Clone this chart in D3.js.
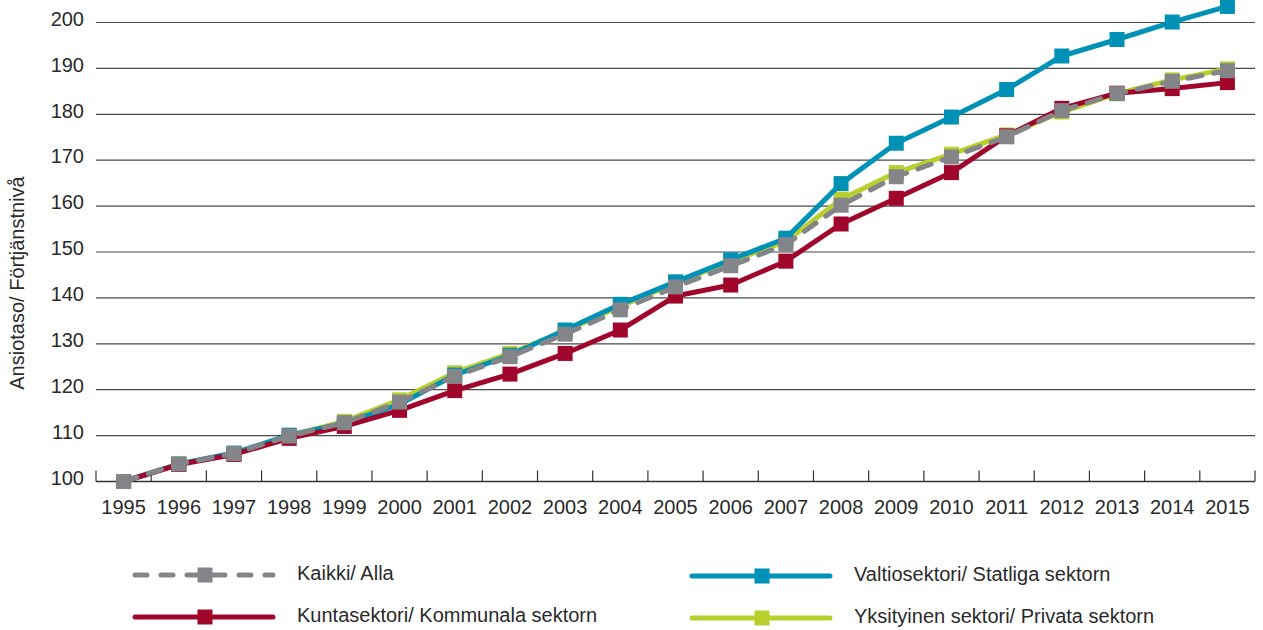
<!DOCTYPE html>
<html>
<head>
<meta charset="utf-8">
<script src="https://cdnjs.cloudflare.com/ajax/libs/d3/7.8.5/d3.min.js"></script>
<style>
  body { margin: 0; background: #fff; }
  svg text { font-family: "Liberation Sans", Arial, sans-serif; fill: #2a2a2a; }
</style>
</head>
<body>
<div id="chart"></div>
<script>
// vuodet / år
var years = [1995,1996,1997,1998,1999,2000,2001,2002,2003,2004,2005,2006,2007,2008,2009,2010,2011,2012,2013,2014,2015];
var yTicks = [100,110,120,130,140,150,160,170,180,190,200];

// arvot luettu kuvasta
var kaikki     = [100,103.8,106.1,109.9,112.8,117.3,122.9,127.2,132.1,137.4,142.4,147.0,151.6,160.2,166.4,170.7,175.1,180.8,184.5,187.2,189.5];
var valtio     = [100,103.8,106.2,110.1,112.7,116.8,123.2,127.5,133.0,138.6,143.5,148.3,153.0,164.9,173.7,179.4,185.4,192.7,196.3,200.1,203.5];
var kunta      = [100,103.7,105.9,109.4,112.0,115.5,119.8,123.4,127.9,133.0,140.4,142.8,148.0,156.1,161.7,167.3,175.3,181.3,184.6,185.6,186.9];
var yksityinen = [100,103.8,106.1,110.0,113.1,117.8,123.7,127.9,132.8,138.2,143.2,148.0,152.3,161.5,167.3,171.3,175.5,180.5,184.5,187.5,189.9];

var series = [
  {name: "Yksityinen sektori/ Privata sektorn", values: yksityinen, color: "#b8cf2d", dash: null},
  {name: "Valtiosektori/ Statliga sektorn", values: valtio, color: "#0092b6", dash: null},
  {name: "Kuntasektori/ Kommunala sektorn", values: kunta, color: "#a0052c", dash: null},
  {name: "Kaikki/ Alla", values: kaikki, color: "#848589", dash: "14,12"}
];

var W = 1263, H = 630;
var svg = d3.select("#chart").append("svg")
  .attr("width", W).attr("height", H);

var x = d3.scaleBand().domain(years).range([96, 1255]).padding(0);
var y = d3.scaleLinear().domain([100, 200]).range([481.5, 22.5]);

// gridlines
svg.append("g")
  .selectAll("line")
  .data(yTicks.slice(1))
  .enter().append("line")
    .attr("x1", 96).attr("x2", 1255)
    .attr("y1", function(d){ return y(d); })
    .attr("y2", function(d){ return y(d); })
    .attr("stroke", "#4a4a4a")
    .attr("stroke-width", 1.2);

// y labels
svg.append("g")
  .selectAll("text")
  .data(yTicks)
  .enter().append("text")
    .attr("x", 84)
    .attr("y", function(d){ return y(d) - 2; })
    .attr("text-anchor", "end")
    .attr("dominant-baseline", "middle")
    .style("font-size", "20px")
    .text(function(d){ return d; });

// x axis
var xAxis = svg.append("g")
  .attr("transform", "translate(0," + y(100) + ")");
xAxis.append("line")
  .attr("x1", 96).attr("x2", 1255)
  .attr("stroke", "#333").attr("stroke-width", 1.3);
var bounds = years.map(function(d){ return x(d); }).concat([x(2015) + x.bandwidth()]);
xAxis.selectAll(".tk")
  .data(bounds)
  .enter().append("line")
    .attr("x1", function(d){ return d; })
    .attr("x2", function(d){ return d; })
    .attr("y1", 0).attr("y2", -11)
    .attr("stroke", "#333").attr("stroke-width", 1.2);
xAxis.selectAll("text")
  .data(years)
  .enter().append("text")
    .attr("x", function(d){ return x(d) + x.bandwidth() / 2; })
    .attr("y", 32)
    .attr("text-anchor", "middle")
    .style("font-size", "20px")
    .text(function(d){ return d; });

// y title
svg.append("text")
  .attr("transform", "translate(24,283) rotate(-90)")
  .attr("text-anchor", "middle")
  .style("font-size", "20px")
  .text("Ansiotaso/ Förtjänstnivå");

var line = d3.line()
  .x(function(d, i){ return x(years[i]) + x.bandwidth() / 2; })
  .y(function(d){ return y(d); });

var ms = 15;
series.forEach(function(s) {
  var g = svg.append("g");
  g.append("path")
    .datum(s.values)
    .attr("d", line)
    .attr("fill", "none")
    .attr("stroke", s.color)
    .attr("stroke-width", 5)
    .attr("stroke-linecap", "round")
    .attr("stroke-linejoin", "round")
    .attr("stroke-dasharray", s.dash);
  g.selectAll("rect")
    .data(s.values)
    .enter().append("rect")
      .attr("x", function(d, i){ return x(years[i]) + x.bandwidth() / 2 - ms / 2; })
      .attr("y", function(d){ return y(d) - ms / 2; })
      .attr("width", ms).attr("height", ms)
      .attr("fill", s.color);
});

// legend
var legend = [
  {s: series[3], lx: 133, ly: 575},
  {s: series[2], lx: 133, ly: 617},
  {s: series[1], lx: 690, ly: 576},
  {s: series[0], lx: 690, ly: 618}
];
legend.forEach(function(l) {
  var g = svg.append("g").attr("transform", "translate(" + l.lx + "," + l.ly + ")");
  g.append("line")
    .attr("x1", 2).attr("x2", 140)
    .attr("stroke", l.s.color)
    .attr("stroke-width", 5)
    .attr("stroke-linecap", "round")
    .attr("stroke-dasharray", l.s.dash ? "12,14" : null);
  g.append("rect")
    .attr("x", 72 - ms / 2).attr("y", -ms / 2)
    .attr("width", ms).attr("height", ms)
    .attr("fill", l.s.color);
  g.append("text")
    .attr("x", 164)
    .attr("y", 0)
    .attr("dominant-baseline", "middle")
    .style("font-size", "20px")
    .text(l.s.name);
});
</script>
</body>
</html>
